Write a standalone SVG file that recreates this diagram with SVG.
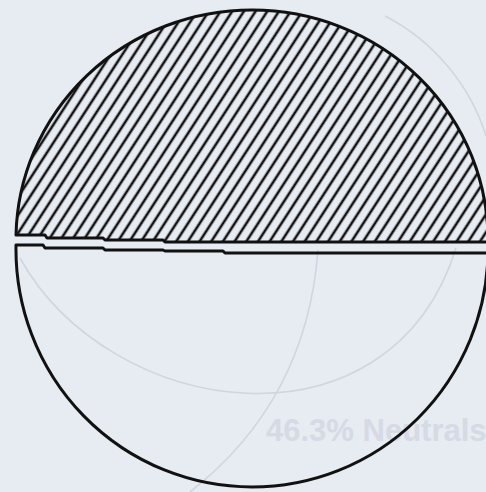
<svg xmlns="http://www.w3.org/2000/svg" width="486" height="492" viewBox="0 0 486 492">
  <style>
    .outline { fill: none; stroke: #111111; stroke-width: 3; stroke-linejoin: round; }
    .bleed { fill: none; stroke: #d0d6e1; stroke-width: 1.6; }
    .ghost { font-family: "Liberation Sans", Arial, sans-serif; font-weight: bold; font-size: 31px; fill: #d5dae4; }
  </style>
  <defs>
    <pattern id="hatch" patternUnits="userSpaceOnUse" width="9.8" height="40" patternTransform="rotate(33)">
      <line x1="4.9" y1="-5" x2="4.9" y2="45" stroke="#131313" stroke-width="2.6"/>
    </pattern>
    <clipPath id="topClip">
      <path d="M16,235 A236,230 0 0 1 252,10 A236,230 0 0 1 488,242 L165,242 L163,240 L105,240 L103,238 L47,238 L45,235 Z"/>
    </clipPath>
  </defs>

  <rect x="0" y="0" width="486" height="492" fill="#e7ebf2"/>

  <g id="bleed-through">
    <path class="bleed" d="M20,258 C110,420 390,460 456,248"/>
    <path class="bleed" d="M318,250 C312,330 282,420 190,492"/>
    <path class="bleed" d="M385,16 C432,40 470,84 486,136"/>
    <text class="ghost" x="266" y="441">46.3% Neutrals</text>
  </g>

  <g id="top-half">
    <rect x="0" y="0" width="486" height="250" fill="url(#hatch)" clip-path="url(#topClip)"/>
    <path class="outline" d="M16,235 A236,230 0 0 1 252,10 A236,230 0 0 1 488,242 L165,242 L163,240 L105,240 L103,238 L47,238 L45,235 Z"/>
  </g>

  <g id="bottom-half">
    <path class="outline" d="M16,245 L43,245 L45,248 L103,248 L105,250 L163,250 L165,251 L223,251 L225,253 L488,253 A236,238 0 0 1 252,487 A236,238 0 0 1 16,245 Z"/>
  </g>
</svg>
